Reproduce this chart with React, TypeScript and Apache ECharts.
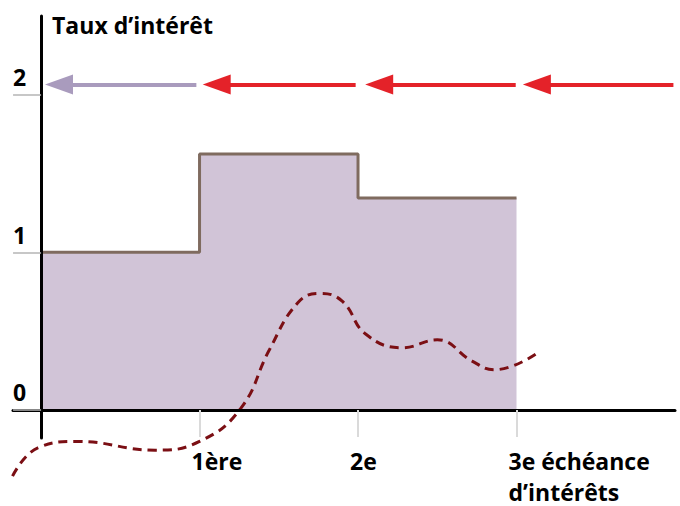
import React, { useEffect, useRef } from 'react';
import * as echarts from 'echarts';

const xTickValues = [1, 2, 3];
const xTickLabels: Record<number, string> = { 1: '1ère', 2: '2e', 3: '3e échéance\nd’intérêts' };
const yTickValues = [0, 1, 2];
const yAxisTitle = 'Taux d’intérêt';

// step levels of the interest rate (value holds until next x)
const stepX = [0, 1, 2, 3];
const stepY = [1.0, 1.624, 1.345, 1.345];

// arrows just above level 2, drawn from start (tail) to tip (pointing left)
const arrowLevel = 2.065;
const arrowStart = [0.98, 1.985, 2.995, 3.99];
const arrowTip = [0.025, 1.02, 2.045, 3.04];
const arrowColors = ['#A99BBD', '#E42229', '#E42229', '#E42229'];

// dashed curve
const curveX = [-0.18, -0.02, 0.23, 0.72, 1.0, 1.26, 1.44, 1.62, 1.76, 1.9, 2.05, 2.28, 2.5, 2.72, 2.86, 3.13];
const curveY = [-0.42, -0.24, -0.2, -0.255, -0.2, 0.01, 0.38, 0.68, 0.74, 0.69, 0.48, 0.395, 0.445, 0.31, 0.255, 0.36];

const FONT = "'Open Sans', 'Noto Sans', sans-serif";
const HEAD_LEN_PX = 28;
const X_UNIT_PX = 158.5;

export default function App() {
  const ref = useRef<HTMLDivElement>(null);
  useEffect(() => {
    document.body.style.margin = '0';
    if (!ref.current) return;
    const chart = echarts.init(ref.current, null, { renderer: 'svg' });
    const textBase = { fontFamily: FONT, fontWeight: 700 as const, fontSize: 23, color: '#000' };
    // markLine end symbols are centred on the end point: shift so the tip lands on arrowTip
    const headHalf = HEAD_LEN_PX / 2 / X_UNIT_PX;
    chart.setOption({
      animation: false,
      grid: { left: 13, right: 5, top: 16, bottom: 68, containLabel: false, outerBoundsMode: 'none' },
      xAxis: {
        type: 'value',
        min: -0.177,
        max: 4,
        z: 10,
        axisLine: { show: true, onZero: true, lineStyle: { color: '#000', width: 3 } },
        axisTick: { show: true, customValues: xTickValues, length: 27, lineStyle: { color: '#DADADA', width: 2 } },
        axisLabel: {
          ...textBase,
          customValues: xTickValues,
          formatter: (v: number) => xTickLabels[v] ?? '',
          align: 'left',
          margin: 7,
          lineHeight: 31,
          padding: [0, 0, 0, -8],
        },
        splitLine: { show: false },
      },
      yAxis: {
        type: 'value',
        min: -0.178,
        max: 2.5,
        z: 10,
        name: yAxisTitle,
        nameLocation: 'end',
        nameGap: -9,
        nameTextStyle: { ...textBase, align: 'left', verticalAlign: 'middle', padding: [0, 0, 0, 11] },
        axisLine: { show: true, onZero: true, lineStyle: { color: '#000', width: 3 } },
        axisTick: { show: true, customValues: yTickValues, length: 28, lineStyle: { color: '#B5B5B5', width: 1.5 } },
        axisLabel: {
          ...textBase,
          customValues: yTickValues,
          align: 'left',
          margin: 0,
          verticalAlign: 'bottom',
          padding: [0, 0, 6, 0],
        },
        splitLine: { show: false },
      },
      series: [
        {
          type: 'line',
          step: 'end',
          data: stepX.map((x, i) => [x, stepY[i]]),
          symbol: 'none',
          lineStyle: { color: '#7F6B5F', width: 3 },
          areaStyle: { color: '#D1C4D7', opacity: 1 },
          z: 2,
          silent: true,
        },
        {
          type: 'line',
          data: curveX.map((x, i) => [x, curveY[i]]),
          smooth: 0.45,
          symbol: 'none',
          clip: false,
          lineStyle: { color: '#7B0F14', width: 3, type: [9, 6] },
          z: 5,
          silent: true,
        },
        {
          type: 'line',
          data: [],
          silent: true,
          markLine: {
            silent: true,
            symbol: ['none', 'triangle'],
            symbolSize: [20, HEAD_LEN_PX],
            label: { show: false },
            emphasis: { disabled: true },
            data: arrowStart.map((s, i) => [
              { coord: [s, arrowLevel], lineStyle: { color: arrowColors[i], width: 4, type: 'solid' } },
              { coord: [arrowTip[i] + headHalf, arrowLevel] },
            ]),
          },
        },
      ],
    });
    return () => chart.dispose();
  }, []);
  return <div ref={ref} style={{ width: 680, height: 506 }} />;
}
